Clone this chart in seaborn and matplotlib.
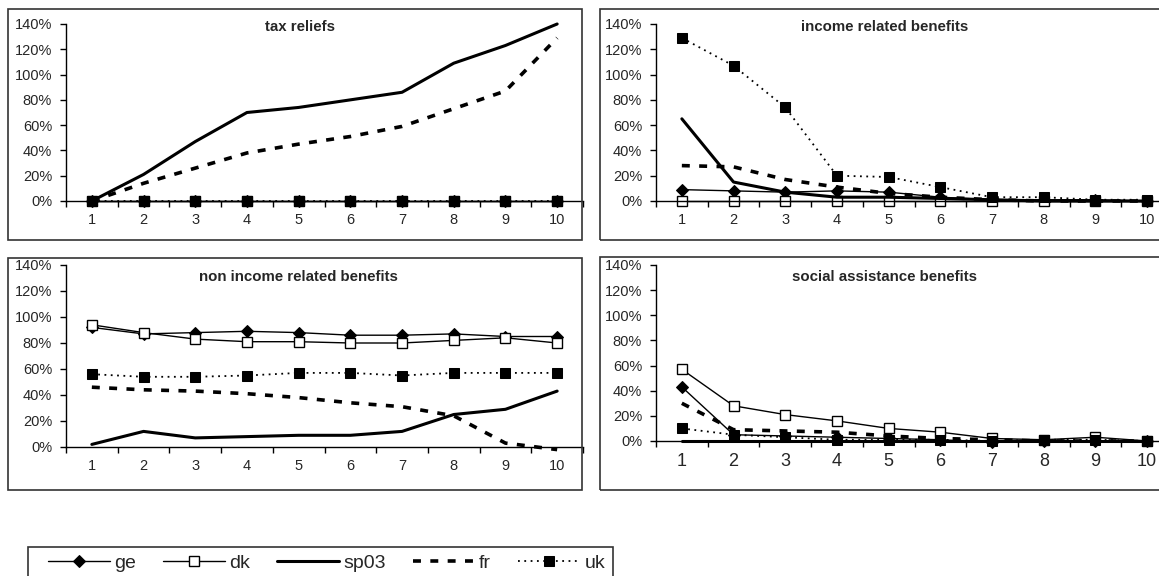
import matplotlib
matplotlib.use("Agg")
import matplotlib.pyplot as plt
import matplotlib.patches as mpatches
from matplotlib.ticker import FixedLocator, FuncFormatter
import seaborn as sns

deciles = [1, 2, 3, 4, 5, 6, 7, 8, 9, 10]
series_names = ["ge", "dk", "sp03", "fr", "uk"]

# values in percent
tax_ge = [0, 0, 0, 0, 0, 0, 0, 0, 0, 0]
tax_dk = [0, 0, 0, 0, 0, 0, 0, 0, 0, 0]
tax_sp03 = [0, 21, 47, 70, 74, 80, 86, 109, 123, 140]
tax_fr = [0, 14, 26, 38, 45, 51, 59, 73, 87, 129]
tax_uk = [0, 0, 0, 0, 0, 0, 0, 0, 0, 0]

inc_ge = [9, 8, 7, 8, 7, 3, 1, 1, 1, 0]
inc_dk = [0, 0, 0, 0, 0, 0, 0, 0, 0, 0]
inc_sp03 = [65, 15, 7, 3, 3, 2, 1, 0, 0, 0]
inc_fr = [28, 27, 17, 11, 6, 3, 1, 0, 0, 0]
inc_uk = [129, 107, 74, 20, 19, 11, 3, 3, 1, 1]

non_ge = [92, 87, 88, 89, 88, 86, 86, 87, 85, 85]
non_dk = [94, 88, 83, 81, 81, 80, 80, 82, 84, 80]
non_sp03 = [2, 12, 7, 8, 9, 9, 12, 25, 29, 43]
non_fr = [46, 44, 43, 41, 38, 34, 31, 24, 3, -2]
non_uk = [56, 54, 54, 55, 57, 57, 55, 57, 57, 57]

soc_ge = [43, 5, 4, 3, 2, 1, -1, 0, 0, 0]
soc_dk = [57, 28, 21, 16, 10, 7, 2, 1, 3, 0]
soc_sp03 = [0, 0, 0, 0, 0, 0, 0, 0, 0, 0]
soc_fr = [30, 9, 8, 7, 4, 2, 1, 0, 0, 0]
soc_uk = [10, 5, 3, 1, 1, 1, 0, 1, 1, 0]

panel_titles = ["tax reliefs", "income related benefits",
                "non income related benefits", "social assistance benefits"]
panel_data = [
    [tax_ge, tax_dk, tax_sp03, tax_fr, tax_uk],
    [inc_ge, inc_dk, inc_sp03, inc_fr, inc_uk],
    [non_ge, non_dk, non_sp03, non_fr, non_uk],
    [soc_ge, soc_dk, soc_sp03, soc_fr, soc_uk],
]
y_ticks = [0, 20, 40, 60, 80, 100, 120, 140]

sns.set_style("white")
plt.rcParams['font.family'] = ['Liberation Sans', 'DejaVu Sans']

styles = {
    "ge": dict(lw=1.0, linestyle="-", marker="D", markersize=6.5,
               markerfacecolor="black", markeredgecolor="black"),
    "dk": dict(lw=1.0, linestyle="-", marker="s", markersize=7.5,
               markerfacecolor="white", markeredgecolor="black", markeredgewidth=1.0),
    "sp03": dict(lw=2.2, linestyle="-"),
    "fr": dict(lw=2.6, linestyle=(0, (2.2, 2.6))),
    "uk": dict(lw=1.3, linestyle=(0, (1, 2.5)), marker="s", markersize=7.5,
               markerfacecolor="black", markeredgecolor="black"),
}

W, H = 1159, 576
fig = plt.figure(figsize=(W / 100, H / 100), dpi=100)


def px_rect(left, right, top, bottom):
    return [left / W, 1 - bottom / H, (right - left) / W, (bottom - top) / H]


# (axes left, right, top, bottom), (box left, right, top, bottom), title centre x, title y
layout = [
    ((66, 583, 24, 201), (8, 582, 9, 240), 300, 27),
    ((656, 1173, 24, 201), (600, 1175, 9, 240), 885, 27),
    ((66, 583, 265, 447), (8, 582, 258, 490), 298, 277),
    ((656, 1173, 265, 441), (600, 1175, 257, 490), 885, 277),
]

legend_handles = None
for i, (title, data) in enumerate(zip(panel_titles, panel_data)):
    (al, ar, at, ab), (bl, br, bt, bb), tx, ty = layout[i]
    box = mpatches.Rectangle((bl / W, 1 - bb / H), (br - bl) / W, (bb - bt) / H,
                             transform=fig.transFigure, fill=False,
                             edgecolor="#333333", lw=1.2)
    fig.patches.append(box)

    ax = fig.add_axes(px_rect(al, ar, at, ab))
    ax.patch.set_alpha(0)
    for name, vals in zip(series_names, data):
        sns.lineplot(x=deciles, y=vals, ax=ax, color="black", label=name,
                     clip_on=False, **styles[name])
    if i == 0:
        legend_handles, legend_labels = ax.get_legend_handles_labels()
    ax.get_legend().remove()

    ax.set_xlim(0.5, 10.5)
    ax.set_ylim(0, 140)
    ax.set_xlabel("")
    ax.set_ylabel("")
    for side in ["top", "right"]:
        ax.spines[side].set_visible(False)
    for side in ["left", "bottom"]:
        ax.spines[side].set_color("black")
        ax.spines[side].set_linewidth(1.0)
    ax.spines["bottom"].set_position(("data", 0))

    ax.xaxis.set_major_locator(FixedLocator(deciles))
    ax.xaxis.set_minor_locator(FixedLocator([d + 0.5 for d in [0] + deciles]))
    ax.set_yticks(y_ticks)
    ax.yaxis.set_major_formatter(FuncFormatter(lambda v, p: f"{v:.0f}%"))
    xsize = 13 if i == 3 else 10.5
    ax.tick_params(axis="x", which="major", length=0, pad=9, labelsize=xsize)
    ax.tick_params(axis="x", which="minor", length=4, width=1, direction="out",
                   color="black", bottom=True)
    ax.tick_params(axis="y", length=4, width=1, direction="out", color="black",
                   left=True, pad=6, labelsize=10.5)

    fig.text(tx / W, 1 - ty / H, title, ha="center", va="center",
             fontsize=10.8, fontweight="bold")

# legend frame, cut at the bottom of the picture like the reference
leg_box = mpatches.Rectangle((28 / W, 1 - 600 / H), (613 - 28) / W, (600 - 547) / H,
                             transform=fig.transFigure, fill=False,
                             edgecolor="#333333", lw=1.2)
fig.patches.append(leg_box)
fig.legend(legend_handles, legend_labels, loc="center left",
           bbox_to_anchor=(40 / W, 1 - 563 / H), ncol=5, frameon=False,
           numpoints=1, handlelength=3.2, handletextpad=0.2,
           columnspacing=1.4, fontsize=14, borderaxespad=0)

fig.savefig("out.png", dpi=100)
